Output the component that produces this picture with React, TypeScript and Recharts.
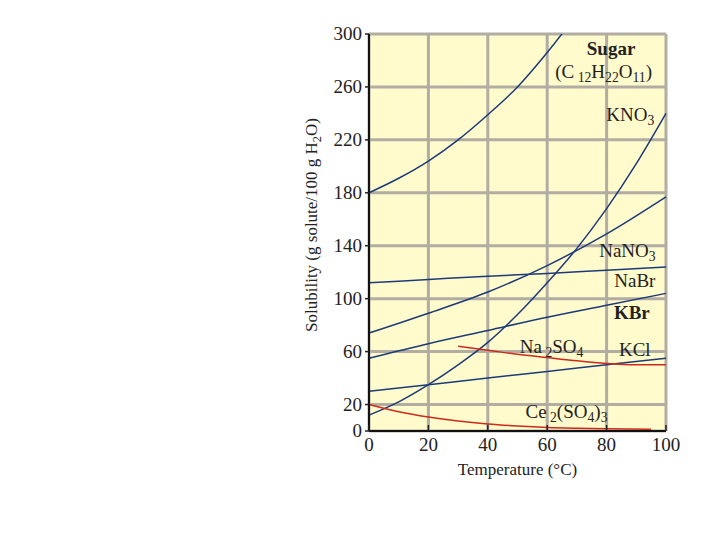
import React from 'react'
import { CartesianGrid, Line, LineChart, ReferenceDot, XAxis, YAxis } from 'recharts'

// solubility curves (g solute / 100 g H2O vs °C)
const sugar = [
  { t: 0, v: 180 }, { t: 10, v: 191 }, { t: 20, v: 204 }, { t: 30, v: 220 },
  { t: 40, v: 239 }, { t: 50, v: 260 }, { t: 60, v: 286 }, { t: 70, v: 315 },
]
const kno3 = [
  { t: 0, v: 12 }, { t: 10, v: 22 }, { t: 20, v: 35 }, { t: 30, v: 50 }, { t: 40, v: 67 },
  { t: 50, v: 88 }, { t: 60, v: 112 }, { t: 70, v: 138 }, { t: 80, v: 168 }, { t: 90, v: 202 },
  { t: 100, v: 240 },
]
const nano3 = [
  { t: 0, v: 74 }, { t: 20, v: 89 }, { t: 40, v: 105 }, { t: 60, v: 125 }, { t: 80, v: 149 }, { t: 100, v: 177 },
]
const nabr = [
  { t: 0, v: 112 }, { t: 20, v: 114.5 }, { t: 40, v: 117 }, { t: 60, v: 119 }, { t: 80, v: 121.5 }, { t: 100, v: 124 },
]
const kbr = [
  { t: 0, v: 55 }, { t: 20, v: 66 }, { t: 40, v: 76 }, { t: 60, v: 86 }, { t: 80, v: 95 }, { t: 100, v: 104 },
]
const kcl = [
  { t: 0, v: 30 }, { t: 20, v: 35 }, { t: 40, v: 40 }, { t: 60, v: 45 }, { t: 80, v: 50 }, { t: 100, v: 55 },
]
const na2so4 = [
  { t: 30, v: 64 }, { t: 40, v: 61 }, { t: 50, v: 58 }, { t: 60, v: 55.5 }, { t: 70, v: 53 },
  { t: 80, v: 51 }, { t: 90, v: 50 }, { t: 100, v: 50 },
]
const ce2so43 = [
  { t: 0, v: 20 }, { t: 10, v: 14.5 }, { t: 20, v: 10.5 }, { t: 30, v: 7.5 }, { t: 40, v: 5.3 },
  { t: 50, v: 3.8 }, { t: 60, v: 2.7 }, { t: 70, v: 2.1 }, { t: 80, v: 1.7 }, { t: 95, v: 1.4 },
]

const xTicks = [0, 20, 40, 60, 80, 100]
const yTicks = [0, 20, 60, 100, 140, 180, 220, 260, 300]

// curve names, each part is [text, isSubscript]
const curveLabels = [
  { t: 81.5, v: 289, parts: [['Sugar', false]], bold: true },
  { t: 79, v: 271, parts: [['(C', false], [' 12', true], ['H', false], ['22', true], ['O', false], ['11', true], [')', false]] },
  { t: 88, v: 239, parts: [['KNO', false], ['3', true]] },
  { t: 87, v: 136, parts: [['NaNO', false], ['3', true]] },
  { t: 89.5, v: 113, parts: [['NaBr', false]] },
  { t: 88.5, v: 89, parts: [['KBr', false]], bold: true },
  { t: 61.5, v: 63.5, parts: [['Na', false], [' 2', true], ['SO', false], ['4', true]] },
  { t: 89.5, v: 61, parts: [['KCl', false]] },
  { t: 66.5, v: 14.5, parts: [['Ce', false], [' 2', true], ['(SO', false], ['4', true], [')', false], ['3', true]] },
]

const BLUE = '#1d3a78'
const RED = '#cc2a1c'
const FONT = '"Liberation Serif", "DejaVu Serif", serif'

function SubText({ parts, fontSize = 19 }: { parts: any[]; fontSize?: number }) {
  let shift = 0
  return (
    <>
      {parts.map(([txt, sub]: [string, boolean], i: number) => {
        const dy = sub ? 4 - shift : -shift
        shift = sub ? 4 : 0
        return (
          <tspan key={i} dy={dy} fontSize={sub ? fontSize * 0.72 : fontSize}>
            {txt}
          </tspan>
        )
      })}
    </>
  )
}

function XTick({ x, y, payload }: any) {
  return (
    <g>
      <line x1={x} x2={x} y1={y} y2={y - 6} stroke="#222" strokeWidth={1.5} />
      <text x={x} y={y + 20} textAnchor="middle" fontFamily={FONT} fontSize={19} fill="#222">
        {payload.value}
      </text>
    </g>
  )
}

function YTick({ x, y, payload }: any) {
  return (
    <g>
      <line x1={x} x2={x - 4} y1={y} y2={y} stroke="#222" strokeWidth={1.5} />
      <text x={x - 7} y={y + 6} textAnchor="end" fontFamily={FONT} fontSize={19} fill="#222">
        {payload.value}
      </text>
    </g>
  )
}

export default function App() {
  return (
    <div style={{ position: 'absolute', left: 0, top: 0, width: 720, height: 540, background: '#fff' }}>
      <LineChart width={720} height={540} margin={{ top: 34, right: 54, bottom: 79, left: 309 }}>
        <CartesianGrid fill="#fffbcc" stroke="#b1ada2" strokeWidth={3} />
        <XAxis
          type="number"
          dataKey="t"
          domain={[0, 100]}
          ticks={xTicks}
          height={30}
          tickSize={0}
          tickMargin={0}
          tick={<XTick />}
          stroke="#111"
          strokeWidth={2}
          label={{
            content: ({ viewBox }: any) => (
              <text x={viewBox.x + viewBox.width / 2} y={475} textAnchor="middle" fontFamily={FONT} fontSize={17} fill="#222">
                Temperature (°C)
              </text>
            ),
          }}
        />
        <YAxis
          type="number"
          domain={[0, 300]}
          ticks={yTicks}
          allowDataOverflow
          width={60}
          tickSize={0}
          tickMargin={0}
          tick={<YTick />}
          stroke="#111"
          strokeWidth={2}
          label={{
            content: () => (
              <text
                x={317}
                y={225}
                textAnchor="middle"
                transform="rotate(-90 317 225)"
                fontFamily={FONT}
                fontSize={17}
                fill="#222"
              >
                <SubText fontSize={17} parts={[['Solubility (g solute/100 g H', false], ['2', true], ['O)', false]]} />
              </text>
            ),
          }}
        />
        <Line data={sugar} dataKey="v" stroke={BLUE} strokeWidth={1.5} dot={false} type="monotone" isAnimationActive={false} />
        <Line data={kno3} dataKey="v" stroke={BLUE} strokeWidth={1.5} dot={false} type="monotone" isAnimationActive={false} />
        <Line data={nano3} dataKey="v" stroke={BLUE} strokeWidth={1.5} dot={false} type="monotone" isAnimationActive={false} />
        <Line data={nabr} dataKey="v" stroke={BLUE} strokeWidth={1.5} dot={false} type="monotone" isAnimationActive={false} />
        <Line data={kbr} dataKey="v" stroke={BLUE} strokeWidth={1.5} dot={false} type="monotone" isAnimationActive={false} />
        <Line data={kcl} dataKey="v" stroke={BLUE} strokeWidth={1.5} dot={false} type="monotone" isAnimationActive={false} />
        <Line data={na2so4} dataKey="v" stroke={RED} strokeWidth={1.5} dot={false} type="monotone" isAnimationActive={false} />
        <Line data={ce2so43} dataKey="v" stroke={RED} strokeWidth={1.5} dot={false} type="monotone" isAnimationActive={false} />
        {curveLabels.map((l, i) => (
          <ReferenceDot
            key={i}
            x={l.t}
            y={l.v}
            r={0}
            shape={(p: any) => (
              <text
                x={p.cx}
                y={p.cy + 6}
                textAnchor="middle"
                fontFamily={FONT}
                fontSize={19}
                fontWeight={l.bold ? 'bold' : 'normal'}
                fill="#222"
              >
                <SubText parts={l.parts} />
              </text>
            )}
          />
        ))}
      </LineChart>
    </div>
  )
}
